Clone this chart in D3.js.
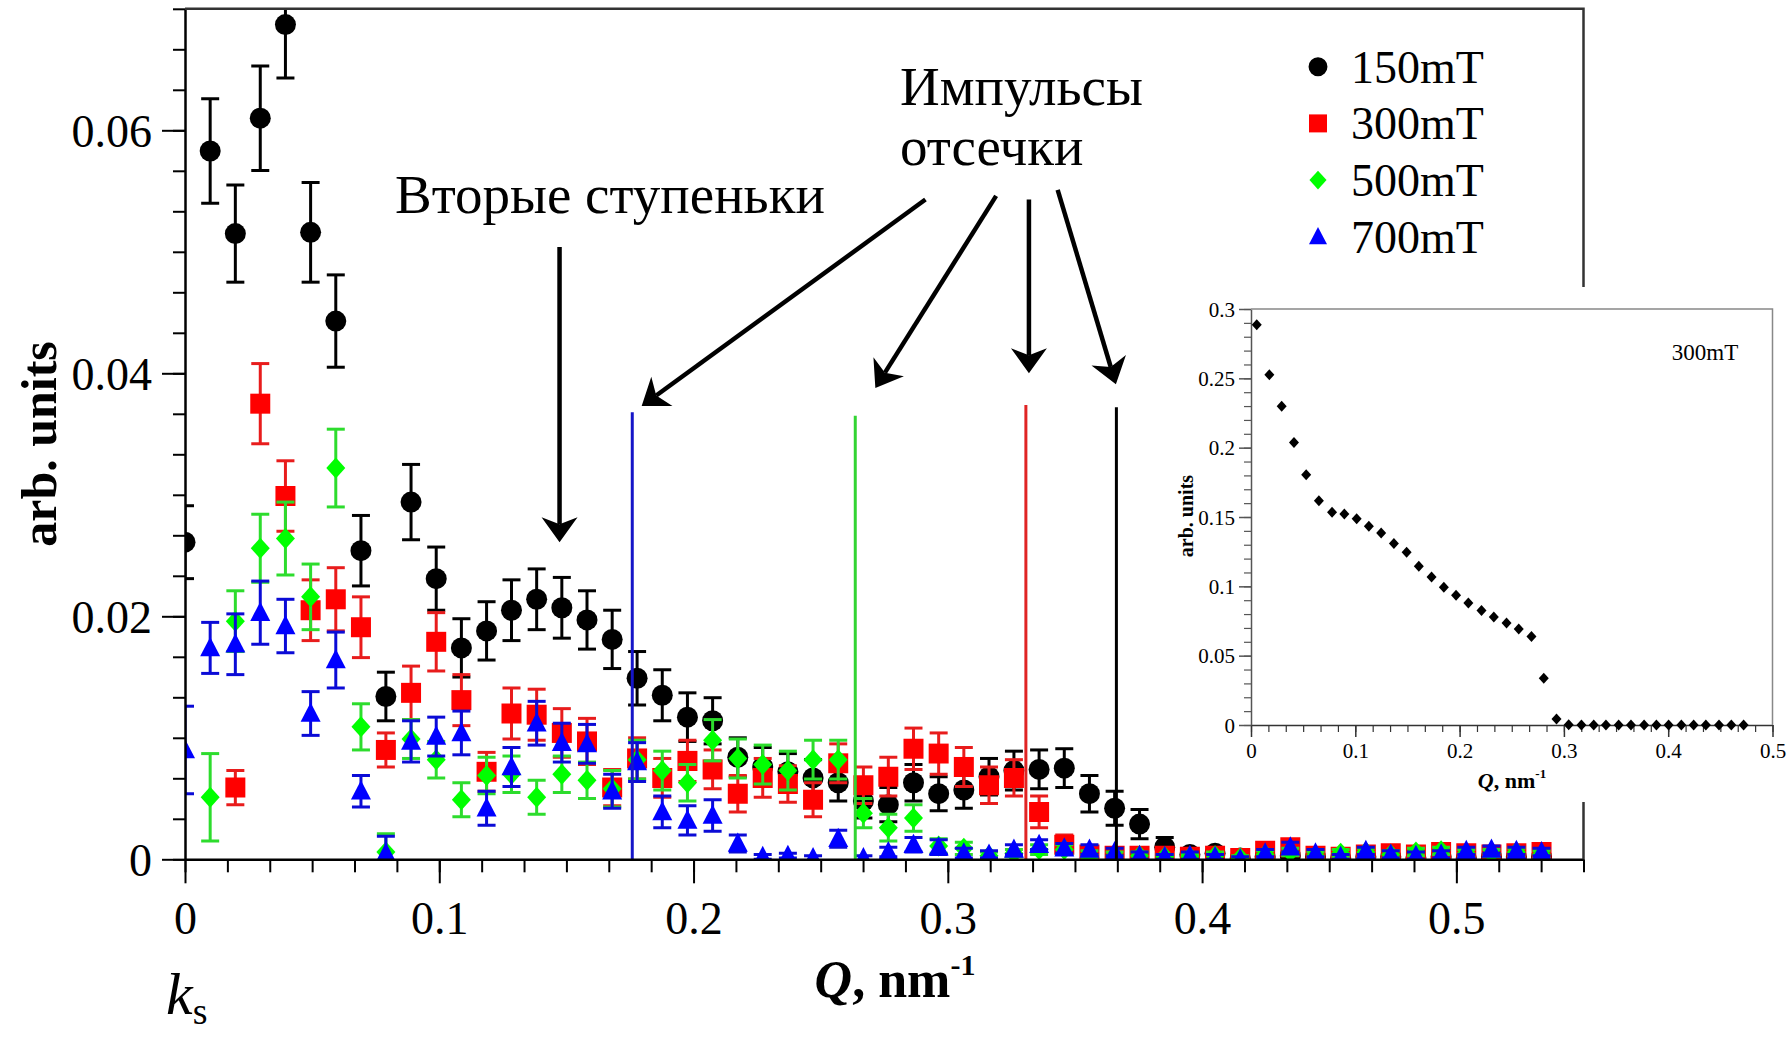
<!DOCTYPE html>
<html><head><meta charset="utf-8">
<script src="https://cdn.jsdelivr.net/npm/d3@7"></script>
<style>
html,body{margin:0;padding:0;background:#fff;}
svg{display:block;}
svg text{font-family:"Liberation Serif","Times New Roman","DejaVu Serif",serif !important;fill:#000;}
</style>
</head><body>
<svg id="chart" width="1787" height="1037"></svg>
<script>
// ---------------- DATA ----------------
const q = [0,0.0099,0.0198,0.0296,0.0395,0.0494,0.0593,0.0692,0.0790,0.0889,
  0.0988,0.1087,0.1186,0.1284,0.1383,0.1482,0.1581,0.1680,0.1778,0.1877,
  0.1976,0.2075,0.2174,0.2272,0.2371,0.2470,0.2569,0.2668,0.2766,0.2865,
  0.2964,0.3063,0.3162,0.3260,0.3359,0.3458,0.3557,0.3656,0.3754,0.3853,
  0.3952,0.4051,0.4150,0.4248,0.4347,0.4446,0.4545,0.4644,0.4742,0.4841,
  0.4940,0.5039,0.5138,0.5236,0.5335];

const seriesNames = ["150mT","300mT","500mT","700mT"];

const v150 = [0.0261,0.0583,0.0515,0.0610,0.0687,0.0516,0.0443,0.0254,0.0134,0.0294,
  0.0231,0.0174,0.0188,0.0205,0.0214,0.0207,0.0197,0.0181,0.0149,0.0135,
  0.0117,0.0114,0.0084,0.0076,0.0072,0.0067,0.0063,0.0048,0.0045,0.0063,
  0.0054,0.0057,0.0068,0.0073,0.0074,0.0075,0.0054,0.0042,0.0029,0.0010,
  0.0004,0.0005,0.0001,0.0002,0.0003,0.0002,0.0001,0.0002,0.0002,0.0001,
  0.0002,0.0001,0.0002,0.0002,0.0002];
const e150 = [0.0030,0.0043,0.0040,0.0043,0.0044,0.0041,0.0038,0.0029,0.0020,0.0031,
  0.0026,0.0024,0.0024,0.0025,0.0025,0.0025,0.0024,0.0024,0.0022,0.0021,
  0.0020,0.0019,0.0016,0.0016,0.0015,0.0015,0.0015,0.0014,0.0014,0.0015,
  0.0014,0.0015,0.0015,0.0016,0.0016,0.0016,0.0015,0.0014,0.0012,0.0008,
  0.0004,0.0004,0.0002,0.0002,0.0002,0.0002,0.0002,0.0002,0.0002,0.0002,
  0.0002,0.0002,0.0002,0.0002,0.0002];

const v300 = [null,null,0.0059,0.0375,0.0299,0.0205,0.0214,0.0191,0.0090,0.0137,
  0.0179,0.0131,0.0072,0.0120,0.0119,0.0104,0.0097,0.0059,0.0083,0.0067,
  0.0081,0.0074,0.0054,0.0067,0.0062,0.0049,0.0079,0.0061,0.0068,0.0091,
  0.0087,0.0076,0.0061,0.0067,0.0039,0.0012,0.0004,0.0003,0.0003,0.0003,
  0.0002,0.0003,0.0001,0.0007,0.0010,0.0003,0.0002,0.0004,0.0005,0.0004,
  0.0006,0.0005,0.0004,0.0005,0.0006];
const e300 = [null,null,0.0014,0.0033,0.0029,0.0025,0.0026,0.0025,0.0014,0.0022,
  0.0024,0.0021,0.0016,0.0021,0.0021,0.0020,0.0019,0.0015,0.0017,0.0016,
  0.0017,0.0016,0.0015,0.0016,0.0015,0.0014,0.0016,0.0015,0.0016,0.0017,
  0.0017,0.0016,0.0015,0.0015,0.0013,0.0008,0.0004,0.0003,0.0003,0.0003,
  0.0003,0.0003,0.0002,0.0004,0.0004,0.0003,0.0003,0.0003,0.0004,0.0003,
  0.0004,0.0004,0.0003,0.0004,0.0004];

const v500 = [null,0.0051,0.0196,0.0256,0.0264,0.0216,0.0322,0.0109,0.0006,0.0099,
  0.0082,0.0049,0.0069,0.0070,0.0051,0.0070,0.0065,0.0058,0.0082,0.0073,
  0.0063,0.0098,0.0083,0.0078,0.0073,0.0082,0.0082,0.0038,0.0026,0.0034,
  0.0011,0.0009,0.0003,0.0005,0.0008,0.0008,0.0004,0.0003,0.0003,0.0002,
  0.0002,0.0003,0.0001,0.0004,0.0006,0.0003,0.0005,0.0006,0.0004,0.0006,
  0.0007,0.0005,0.0005,0.0006,0.0004];
const e500 = [null,0.0036,0.0025,0.0028,0.0030,0.0027,0.0032,0.0019,0.0015,0.0016,
  0.0015,0.0014,0.0015,0.0015,0.0014,0.0015,0.0015,0.0015,0.0016,0.0016,
  0.0015,0.0017,0.0016,0.0016,0.0016,0.0016,0.0016,0.0012,0.0011,0.0011,
  0.0006,0.0005,0.0003,0.0003,0.0004,0.0004,0.0003,0.0003,0.0003,0.0002,
  0.0002,0.0003,0.0002,0.0003,0.0003,0.0003,0.0003,0.0003,0.0003,0.0003,
  0.0003,0.0003,0.0003,0.0003,0.0003];

const v700 = [0.0090,0.0174,0.0177,0.0203,0.0192,0.0120,0.0164,0.0056,0.0005,0.0097,
  0.0101,0.0104,0.0042,0.0076,0.0112,0.0096,0.0095,0.0056,0.0080,0.0039,
  0.0032,0.0036,0.0013,0.0002,0.0003,0.0001,0.0017,0.0001,0.0006,0.0012,
  0.0010,0.0005,0.0004,0.0008,0.0012,0.0009,0.0008,0.0006,0.0003,0.0002,
  0.0003,0.0002,0.0000,0.0005,0.0010,0.0005,0.0002,0.0007,0.0004,0.0003,
  0.0004,0.0007,0.0008,0.0007,0.0006];
const e700 = [0.0036,0.0021,0.0025,0.0026,0.0022,0.0018,0.0023,0.0013,0.0014,0.0017,
  0.0016,0.0018,0.0014,0.0016,0.0018,0.0016,0.0016,0.0014,0.0016,0.0013,
  0.0012,0.0013,0.0007,0.0002,0.0002,0.0002,0.0007,0.0002,0.0004,0.0006,
  0.0006,0.0004,0.0003,0.0004,0.0004,0.0004,0.0004,0.0003,0.0003,0.0002,
  0.0003,0.0002,0.0002,0.0003,0.0004,0.0003,0.0002,0.0003,0.0003,0.0003,
  0.0003,0.0003,0.0003,0.0003,0.0003];

// cut-off pulse lines (Q position and top value)
const cutoffQ   = [0.1759, 0.2636, 0.3307, 0.3663];
const cutoffTop = [0.0368, 0.0365, 0.0374, 0.0372];

// annotation arrows in data coordinates [Q, value]
const arrowFrom = [[0.1473,0.0504],[0.2912,0.0543],[0.3190,0.0546],[0.3319,0.0543],[0.3432,0.0551]];
const arrowTo   = [[0.1473,0.0261],[0.1796,0.0373],[0.2715,0.0388],[0.3319,0.0400],[0.3661,0.0391]];

const xTicks = [0,0.1,0.2,0.3,0.4,0.5];
const xTickLabels = ["0","0.1","0.2","0.3","0.4","0.5"];
const yTicks = [0,0.02,0.04,0.06];
const yTickLabels = ["0","0.02","0.04","0.06"];

// inset (300mT)
const insetQ = [0.0055,0.0176,0.0294,0.0412,0.0529,0.0651,0.0777,0.0895,0.1013,0.1130,
  0.1248,0.1370,0.1492,0.1609,0.1731,0.1849,0.1966,0.2084,0.2210,0.2328,
  0.2450,0.2567,0.2689,0.2807,0.2929,0.3046,0.3168,0.3286,0.3403,0.3525,
  0.3643,0.3769,0.3887,0.4004,0.4126,0.4244,0.4361,0.4487,0.4605,0.4723];
const inset300 = [0.2887,0.2526,0.2298,0.2038,0.1805,0.1618,0.1534,0.1522,0.1488,0.1433,
  0.1385,0.1308,0.1245,0.1144,0.1067,0.0993,0.0935,0.0880,0.0825,0.0779,
  0.0736,0.0692,0.0639,0.0337,0.0043,0.0002,0,0,0,0,
  0,0,0,0,0,0,0,0,0,0];
const insetXTicks = [0,0.1,0.2,0.3,0.4,0.5];
const insetXTickLabels = ["0","0.1","0.2","0.3","0.4","0.5"];
const insetYTicks = [0,0.05,0.1,0.15,0.2,0.25,0.3];
const insetYTickLabels = ["0","0.05","0.1","0.15","0.2","0.25","0.3"];

// ---------------- DRAW ----------------
const FONT = '"Liberation Serif","Times New Roman","DejaVu Serif",serif';
const svg = d3.select("#chart");
svg.append("rect").attr("width",1787).attr("height",1037).attr("fill","#fff");

const x = d3.scaleLinear().domain([0,0.55]).range([185,1583.5]);
const y = d3.scaleLinear().domain([0,0.07]).range([859.3,8.8]);

const seriesColors = ["#000000","#ff0000","#00ff00","#0000ff"];
const barColors    = ["#000000","#e81c1c","#2ddc2d","#0b0bd6"];
const cutColors    = ["#1515c8","#33d433","#e02424","#000000"];
const shapes = ["circle","square","diamond","triangle"];

function shapePath(t, k) {
  k = k || 1;
  if (t === "circle") return d3.symbol(d3.symbolCircle, Math.PI*10.5*10.5*k*k)();
  if (t === "square") { const s=10*k; return `M${-s},${-s}H${s}V${s}H${-s}Z`; }
  if (t === "diamond") { const h=10.5*k, w=9.5*k; return `M0,${-h}L${w},0L0,${h}L${-w},0Z`; }
  const h=11*k, w=10*k; return `M0,${-h}L${w},${h*0.75}L${-w},${h*0.75}Z`;
}

svg.append("clipPath").attr("id","plotClip").append("rect")
  .attr("x",x(0)).attr("y",y(0.07)).attr("width",x(0.55)-x(0)).attr("height",y(0)-y(0.07));

const plot = svg.append("g").attr("clip-path","url(#plotClip)");

const allVals = [v150,v300,v500,v700];
const allErrs = [e150,e300,e500,e700];

allVals.forEach((vals,si) => {
  const pts = q.map((qq,i) => ({q:qq, v:vals[i], e:allErrs[si][i]})).filter(d => d.v !== null);
  const g = plot.append("g");
  const col = barColors[si];
  g.selectAll("line.eb").data(pts).join("line")
    .attr("x1",d=>x(d.q)).attr("x2",d=>x(d.q))
    .attr("y1",d=>y(d.v-d.e)).attr("y2",d=>y(d.v+d.e))
    .attr("stroke",col).attr("stroke-width",3);
  ["lo","hi"].forEach(side => {
    g.selectAll("line.cap"+side).data(pts).join("line")
      .attr("x1",d=>x(d.q)-9).attr("x2",d=>x(d.q)+9)
      .attr("y1",d=>y(side==="lo"?d.v-d.e:d.v+d.e))
      .attr("y2",d=>y(side==="lo"?d.v-d.e:d.v+d.e))
      .attr("stroke",col).attr("stroke-width",3);
  });
  g.selectAll("path.m").data(pts).join("path")
    .attr("d",shapePath(shapes[si]))
    .attr("transform",d=>`translate(${x(d.q)},${y(d.v)})`)
    .attr("fill",seriesColors[si]);
});

// cut-off lines
plot.selectAll("line.cut").data(cutoffQ).join("line")
  .attr("x1",d=>x(d)).attr("x2",d=>x(d))
  .attr("y1",y(0)).attr("y2",(d,i)=>y(cutoffTop[i]))
  .attr("stroke",(d,i)=>cutColors[i]).attr("stroke-width",3);

// axes
const axG = svg.append("g");
const xMinor = d3.range(0,34).map(i=>i/60);
const yMinor = d3.range(0,22).map(i=>i*0.02/6);

axG.append("g").attr("transform",`translate(0,${y(0)})`)
  .call(d3.axisBottom(x).tickValues(xMinor).tickSize(13).tickFormat("").tickSizeOuter(0))
  .call(g=>g.select(".domain").remove())
  .call(g=>g.selectAll("line").attr("stroke","#000").attr("stroke-width",2));
axG.append("g").attr("transform",`translate(0,${y(0)})`)
  .call(d3.axisBottom(x).tickValues(xTicks).tickSize(24).tickSizeOuter(0).tickFormat((d,i)=>xTickLabels[i]))
  .call(g=>g.select(".domain").attr("stroke","#000").attr("stroke-width",2.5))
  .call(g=>g.selectAll("line").attr("stroke","#000").attr("stroke-width",2))
  .call(g=>g.selectAll("text").attr("y",75).attr("dy",0).attr("font-size",46)
     .attr("font-family",FONT).attr("fill","#000"));

axG.append("g").attr("transform",`translate(${x(0)},0)`)
  .call(d3.axisLeft(y).tickValues(yMinor).tickSize(12).tickFormat("").tickSizeOuter(0))
  .call(g=>g.select(".domain").remove())
  .call(g=>g.selectAll("line").attr("stroke","#000").attr("stroke-width",2));
axG.append("g").attr("transform",`translate(${x(0)},0)`)
  .call(d3.axisLeft(y).tickValues(yTicks).tickSize(23).tickSizeOuter(0).tickFormat((d,i)=>yTickLabels[i]))
  .call(g=>g.select(".domain").attr("stroke","#000").attr("stroke-width",2.5))
  .call(g=>g.selectAll("line").attr("stroke","#000").attr("stroke-width",2))
  .call(g=>g.selectAll("text").attr("x",-33).attr("dy",16).attr("font-size",46)
     .attr("font-family",FONT).attr("fill","#000"));

// frame top/right
svg.append("path")
  .attr("d",`M${x(0)},${y(0.07)}H${x(0.55)}V${y(0)}`)
  .attr("fill","none").attr("stroke","#333").attr("stroke-width",2.5);

// axis titles
svg.append("text").attr("transform","translate(56,444) rotate(-90)").attr("font-family",FONT)
  .attr("text-anchor","middle").attr("font-size",50).attr("font-weight","bold").text("arb. units");
const xt = svg.append("text").attr("x",895).attr("y",997).attr("text-anchor","middle").attr("font-family",FONT)
  .attr("font-size",52).attr("font-weight","bold");
xt.append("tspan").attr("font-style","italic").text("Q");
xt.append("tspan").text(", nm");
xt.append("tspan").attr("font-size",30).attr("dy",-22).text("-1");

// k_s
const ks = svg.append("text").attr("x",166).attr("y",1014).attr("font-family",FONT);
ks.append("tspan").attr("font-size",60).attr("font-style","italic").text("k");
ks.append("tspan").attr("font-size",38).attr("dy",10).text("s");

// annotations
svg.append("text").attr("x",395).attr("y",213).attr("font-size",55).attr("font-family",FONT).text("Вторые ступеньки");
svg.append("text").attr("x",900).attr("y",105).attr("font-size",55).attr("font-family",FONT).text("Импульсы");
svg.append("text").attr("x",900).attr("y",165).attr("font-size",55).attr("font-family",FONT).text("отсечки");

const arrowG = svg.append("g");
arrowFrom.forEach((f,i) => {
  const x1=x(f[0]), y1=y(f[1]), x2=x(arrowTo[i][0]), y2=y(arrowTo[i][1]);
  const dx=x2-x1, dy=y2-y1, len=Math.hypot(dx,dy), ux=dx/len, uy=dy/len, nx=-uy, ny=ux;
  const L=25, hw=18, notch=7;
  const bx=x2-ux*L, by=y2-uy*L;
  arrowG.append("line").attr("x1",x1).attr("y1",y1).attr("x2",bx+ux*notch).attr("y2",by+uy*notch)
    .attr("stroke","#000").attr("stroke-width",4.5);
  arrowG.append("path")
    .attr("d",`M${x2},${y2}L${bx+nx*hw},${by+ny*hw}L${bx+ux*notch},${by+uy*notch}L${bx-nx*hw},${by-ny*hw}Z`)
    .attr("fill","#000");
});

// legend
const leg = svg.append("g");
seriesNames.forEach((nm,i) => {
  const ly = 66.7 + i*56.7;
  leg.append("path").attr("d",shapePath(shapes[i],0.9)).attr("transform",`translate(1318,${ly})`)
    .attr("fill",seriesColors[i]);
  leg.append("text").attr("x",1351).attr("y",ly+16).attr("font-size",46).attr("font-family",FONT).text(nm);
});

// ---------------- INSET ----------------
const ins = svg.append("g");
ins.append("rect").attr("x",1172).attr("y",287).attr("width",615).attr("height",515).attr("fill","#fff");
const xi = d3.scaleLinear().domain([0,0.5]).range([1251,1772.5]);
const yi = d3.scaleLinear().domain([0,0.3]).range([725,309]);

ins.append("g").attr("transform",`translate(0,${yi(0)})`)
  .call(d3.axisBottom(xi).tickValues(d3.range(0,31).map(i=>i/60)).tickSize(7).tickFormat("").tickSizeOuter(0))
  .call(g=>g.select(".domain").remove())
  .call(g=>g.selectAll("line").attr("stroke","#333").attr("stroke-width",1.2));
ins.append("g").attr("transform",`translate(0,${yi(0)})`)
  .call(d3.axisBottom(xi).tickValues(insetXTicks).tickSize(12).tickSizeOuter(0).tickFormat((d,i)=>insetXTickLabels[i]))
  .call(g=>g.select(".domain").attr("stroke","#333").attr("stroke-width",1.5))
  .call(g=>g.selectAll("line").attr("stroke","#333").attr("stroke-width",1.5))
  .call(g=>g.selectAll("text").attr("y",33).attr("dy",0).attr("font-size",21)
     .attr("font-family",FONT).attr("fill","#000"));
ins.append("g").attr("transform",`translate(${xi(0)},0)`)
  .call(d3.axisLeft(yi).tickValues(d3.range(0,31).map(i=>i*0.01)).tickSize(7).tickFormat("").tickSizeOuter(0))
  .call(g=>g.select(".domain").remove())
  .call(g=>g.selectAll("line").attr("stroke","#555").attr("stroke-width",1.2));
ins.append("g").attr("transform",`translate(${xi(0)},0)`)
  .call(d3.axisLeft(yi).tickValues(insetYTicks).tickSize(12).tickSizeOuter(0).tickFormat((d,i)=>insetYTickLabels[i]))
  .call(g=>g.select(".domain").attr("stroke","#555").attr("stroke-width",1.5))
  .call(g=>g.selectAll("line").attr("stroke","#555").attr("stroke-width",1.5))
  .call(g=>g.selectAll("text").attr("x",-16).attr("dy",7).attr("font-size",21)
     .attr("font-family",FONT).attr("fill","#000"));
ins.append("path").attr("d",`M${xi(0)},${yi(0.3)}H${xi(0.5)}V${yi(0)}`)
  .attr("fill","none").attr("stroke","#888").attr("stroke-width",1.5);

ins.selectAll("path.ipt").data(insetQ).join("path")
  .attr("d",`M0,-5.5L5,0L0,5.5L-5,0Z`)
  .attr("transform",(d,i)=>`translate(${xi(d)},${yi(inset300[i])})`)
  .attr("fill","#000");

ins.append("text").attr("x",1705).attr("y",360).attr("text-anchor","middle").attr("font-size",23).attr("font-family",FONT).text("300mT");
ins.append("text").attr("transform","translate(1193,516) rotate(-90)").attr("text-anchor","middle").attr("font-family",FONT)
  .attr("font-size",20).attr("font-weight","bold").text("arb. units");
const ixt = ins.append("text").attr("x",1512).attr("y",788).attr("text-anchor","middle").attr("font-family",FONT)
  .attr("font-size",22).attr("font-weight","bold");
ixt.append("tspan").attr("font-style","italic").text("Q");
ixt.append("tspan").text(", nm");
ixt.append("tspan").attr("font-size",13).attr("dy",-10).text("-1");
</script>
</body></html>
